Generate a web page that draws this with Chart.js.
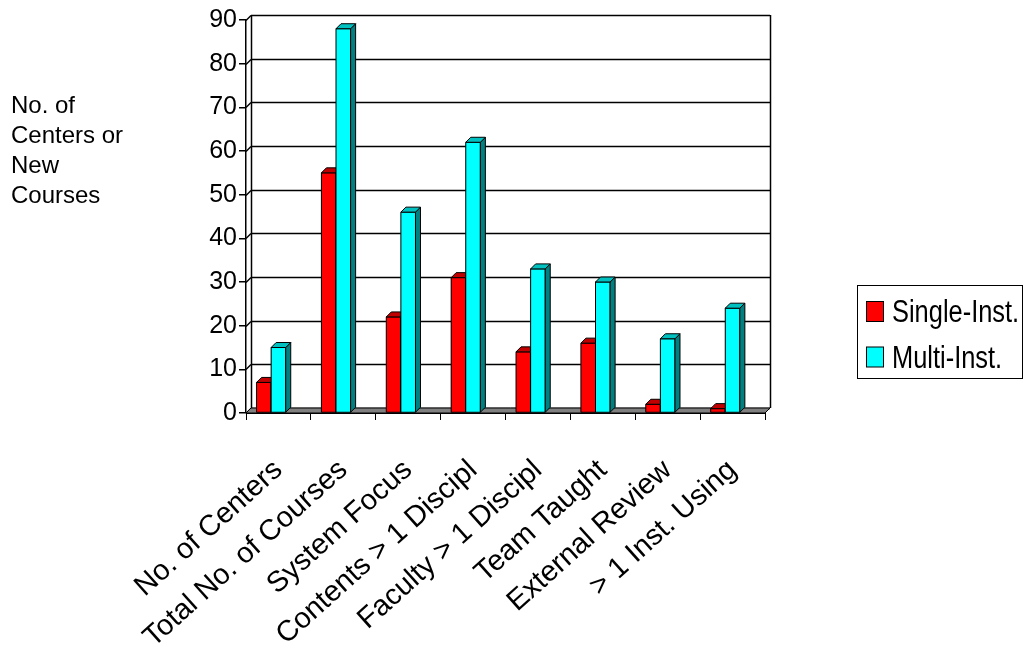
<!DOCTYPE html>
<html>
<head>
<meta charset="utf-8">
<script src="https://cdn.jsdelivr.net/npm/chart.js@4.4.0/dist/chart.umd.min.js"></script>
<style>
    body { margin: 0; background: #fff; }
    #wrap { width: 1024px; height: 653px; position: relative; }
</style>
</head>
<body>
<div id="wrap"><canvas id="chart"></canvas></div>
<script>
const categories = ['No. of Centers', 'Total No. of Courses', 'System Focus', 'Contents > 1 Discipl',
    'Faculty > 1 Discipl', 'Team Taught', 'External Review', '> 1 Inst. Using'];
const singleInst = [7, 55, 22, 31, 14, 16, 2, 1];
const multiInst = [15, 88, 46, 62, 33, 30, 17, 24];
const yMax = 90;
const yStep = 10;
const yTitle = ['No. of', 'Centers or', 'New', 'Courses'];

const FONT = '"Liberation Sans", Arial, sans-serif';
const DX = 5, DY = 5; // depth of the fake 3d

const line = (ctx, x1, y1, x2, y2) => {
    ctx.beginPath();
    ctx.moveTo(x1, y1);
    ctx.lineTo(x2, y2);
    ctx.stroke();
};

const poly = (ctx, pts, fill) => {
    ctx.beginPath();
    pts.forEach(([x, y], i) => i ? ctx.lineTo(x, y) : ctx.moveTo(x, y));
    ctx.closePath();
    ctx.fillStyle = fill;
    ctx.fill();
    ctx.stroke();
};

// walls, floor, bar sides, title and legend
const chart3d = {
    id: 'chart3d',
    beforeDatasetsDraw(chart) {
        const { ctx, chartArea: a, scales: { y } } = chart;
        ctx.save();
        ctx.strokeStyle = '#000';
        ctx.lineWidth = 1.5;
        y.ticks.forEach(t => {
            const py = Math.round(y.getPixelForValue(t.value)) + 0.5;
            line(ctx, a.left, py, a.left + DX, py - DY);
            line(ctx, a.left + DX, py - DY, a.right + DX, py - DY);
        });
        line(ctx, a.left + DX + 0.5, a.top - DY, a.left + DX + 0.5, a.bottom - DY);
        line(ctx, a.right + DX + 0.5, a.top - DY, a.right + DX + 0.5, a.bottom - DY);
        ctx.lineWidth = 1;
        poly(ctx, [[a.left, a.bottom], [a.right, a.bottom], [a.right + DX, a.bottom - DY], [a.left + DX, a.bottom - DY]], '#808080');
        ctx.restore();
    },
    afterDatasetsDraw(chart) {
        const { ctx } = chart;
        const faces = [
            { meta: chart.getDatasetMeta(0), front: '#ff0000', top: '#c00000', side: '#800000' },
            { meta: chart.getDatasetMeta(1), front: '#00ffff', top: '#00c0c0', side: '#008080' }
        ];
        ctx.save();
        ctx.strokeStyle = '#000';
        ctx.lineWidth = 1;
        categories.forEach((c, i) => {
            faces.forEach(f => {
                const bar = f.meta.data[i];
                const l = bar.x - bar.width / 2, r = bar.x + bar.width / 2;
                const t = bar.y, b = bar.base;
                poly(ctx, [[l, b], [l, t], [r, t], [r, b]], f.front);
                poly(ctx, [[r, b], [r, t], [r + DX, t - DY], [r + DX, b - DY]], f.side);
                poly(ctx, [[l, t], [l + DX, t - DY], [r + DX, t - DY], [r, t]], f.top);
            });
        });
        ctx.restore();
    },
    afterDraw(chart) {
        const { ctx } = chart;
        ctx.save();
        ctx.fillStyle = '#000';
        ctx.textBaseline = 'alphabetic';
        ctx.font = '24px ' + FONT;
        yTitle.forEach((s, i) => ctx.fillText(s, 11, 113 + i * 30));

        // legend
        ctx.strokeStyle = '#000';
        ctx.lineWidth = 1;
        ctx.strokeRect(857.5, 285.5, 165, 93);
        [['#ff0000', 'Single-Inst.'], ['#00ffff', 'Multi-Inst.']].forEach(([col, label], i) => {
            const y0 = 301 + i * 45.5;
            ctx.fillStyle = col;
            ctx.fillRect(866.5, y0 + 0.5, 17, 20);
            ctx.strokeRect(866.5, y0 + 0.5, 17, 20);
            ctx.save();
            ctx.translate(892, y0 + 21);
            ctx.scale(0.82, 1);
            ctx.fillStyle = '#000';
            ctx.font = '31px ' + FONT;
            ctx.fillText(label, 0, 0);
            ctx.restore();
        });
        ctx.restore();
    }
};

new Chart(document.getElementById('chart'), {
    type: 'bar',
    data: {
        labels: categories,
        datasets: [
            { label: 'Single-Inst.', data: singleInst, backgroundColor: '#ff0000', borderColor: '#000', borderWidth: 1 },
            { label: 'Multi-Inst.', data: multiInst, backgroundColor: '#00ffff', borderColor: '#000', borderWidth: 1 },
            // empty slot that stands for the depth gap on the right of each pair
            { label: '', data: [], backgroundColor: 'rgba(0,0,0,0)' }
        ]
    },
    options: {
        responsive: true,
        maintainAspectRatio: false,
        animation: false,
        layout: { padding: { top: 20, right: 259, left: 0, bottom: 0 } },
        datasets: { bar: { barPercentage: 1, categoryPercentage: 0.675 } },
        scales: {
            x: {
                grid: { display: true, drawOnChartArea: false, drawTicks: true, tickLength: 7, color: '#000', offset: true },
                border: { display: true, color: '#000' },
                ticks: {
                    autoSkip: false, maxRotation: 42, minRotation: 42, padding: 33,
                    color: '#000', font: { family: FONT, size: 29 }
                },
                afterFit: (scale) => { scale.height = 240; }
            },
            y: {
                min: 0, max: yMax,
                grid: { display: true, drawOnChartArea: false, drawTicks: true, tickLength: 7, color: '#000', lineWidth: 1.5 },
                border: { display: true, color: '#000', width: 1.5 },
                ticks: { stepSize: yStep, padding: 2, color: '#000', font: { family: FONT, size: 25 } },
                afterFit: (scale) => { scale.width = 246; }
            }
        },
        plugins: {
            legend: { display: false },
            tooltip: { enabled: false }
        }
    },
    plugins: [chart3d]
});
</script>
</body>
</html>
